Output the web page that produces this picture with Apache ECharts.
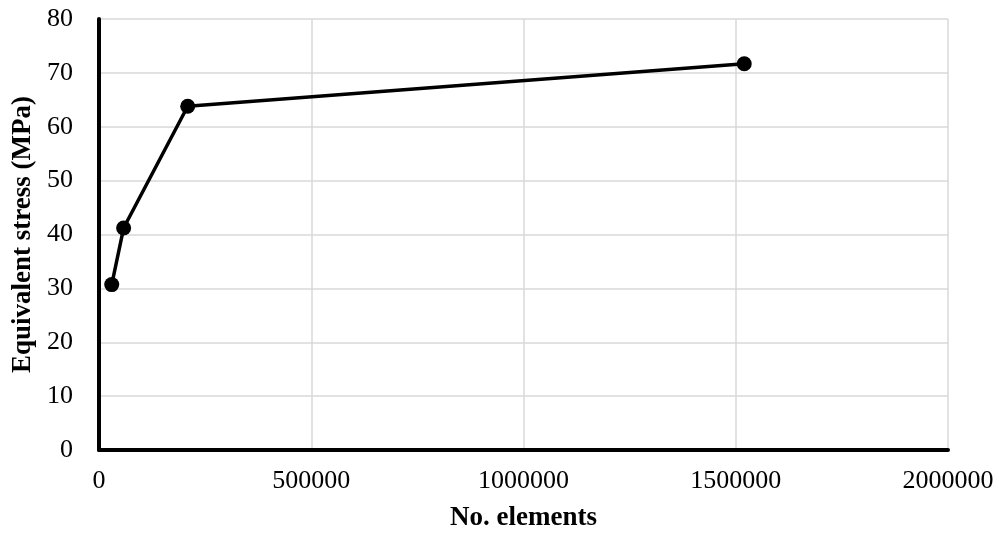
<!DOCTYPE html>
<html><head><meta charset="utf-8">
<script src="https://cdn.jsdelivr.net/npm/echarts@6/dist/echarts.min.js"></script>
<style>html,body{margin:0;padding:0;background:#fff}#c{width:999px;height:541px}</style>
</head><body><div id="c"></div>
<script>
const elements = [30000, 58000, 209000, 1520000];
const stress = [30.7, 41.2, 63.8, 71.7];
const xTitle = 'No. elements';
const yTitle = 'Equivalent stress (MPa)';

const chart = echarts.init(document.getElementById('c'), null, {renderer: 'canvas'});
const font = '"Liberation Serif", "Times New Roman", serif';
chart.setOption({
  animation: false,
  backgroundColor: '#fff',
  grid: {left: 99, right: 51, top: 19, bottom: 91, containLabel: false},
  xAxis: {
    type: 'value', min: 0, max: 2000000, interval: 500000,
    name: xTitle, nameLocation: 'middle', nameGap: 55,
    nameTextStyle: {fontFamily: font, fontSize: 27, fontWeight: 'bold', color: '#000'},
    axisLine: {show: true, lineStyle: {color: '#000', width: 4}},
    axisTick: {show: false},
    axisLabel: {fontFamily: font, fontSize: 26, color: '#000', margin: 18,
      formatter: v => String(v)},
    splitLine: {show: true, lineStyle: {color: '#d9d9d9', width: 1.5}}
  },
  yAxis: {
    type: 'value', min: 0, max: 80, interval: 10,
    name: yTitle, nameLocation: 'middle', nameGap: 58,
    nameTextStyle: {fontFamily: font, fontSize: 27, fontWeight: 'bold', color: '#000'},
    axisLine: {show: true, lineStyle: {color: '#000', width: 4}},
    axisTick: {show: false},
    axisLabel: {fontFamily: font, fontSize: 26, color: '#000', margin: 26},
    splitLine: {show: true, lineStyle: {color: '#d9d9d9', width: 1.5}}
  },
  series: [{
    type: 'line',
    data: elements.map((x, i) => [x, stress[i]]),
    symbol: 'circle', symbolSize: 15,
    lineStyle: {color: '#000', width: 3.5},
    itemStyle: {color: '#000'}
  }]
});
</script></body></html>
